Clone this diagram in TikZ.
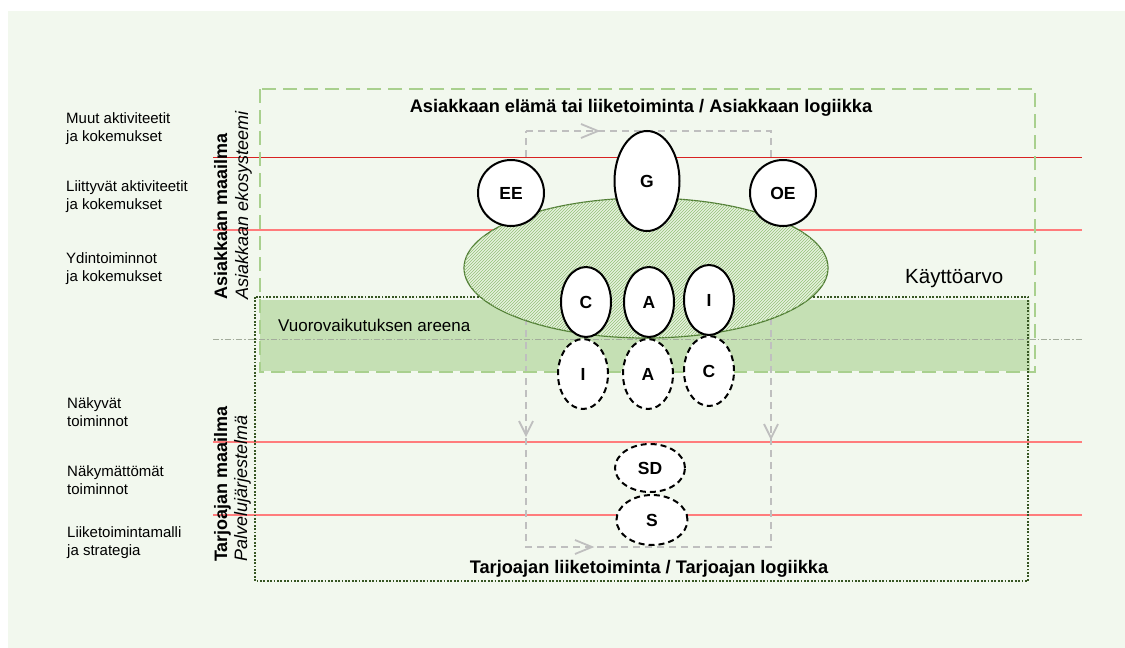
\documentclass[tikz,border=0pt]{standalone}
\usepackage{fontspec}
\setmainfont{Liberation Sans}
\usetikzlibrary{shapes.geometric,patterns}

\definecolor{panelbg}{HTML}{F2F8EE}
\definecolor{arenafill}{HTML}{C5E0B4}
\definecolor{worldgreen}{HTML}{A9D08E}
\definecolor{darkgreen}{HTML}{375623}
\definecolor{rimgreen}{HTML}{4E7A32}
\definecolor{hatchbase}{HTML}{E6F1DE}
\definecolor{hatchline}{HTML}{94C178}
\definecolor{loopgray}{HTML}{BFBFBF}
\definecolor{levelred}{HTML}{FF7C7C}
\definecolor{toplevelred}{HTML}{D82222}
\definecolor{axisgray}{HTML}{A3AC9C}

\tikzset{
  levelline/.style={levelred, line width=1.2pt},
  loopline/.style={loopgray, line width=2pt, dash pattern=on 7pt off 5pt},
  chevron/.style={loopgray, line width=1.8pt},
  actor/.style={ellipse, draw=black, fill=white, line width=2pt, inner sep=0pt,
    font=\bfseries\fontsize{17.5}{20}\selectfont},
  provactor/.style={actor, dash pattern=on 6pt off 4pt},
  levellabel/.style={align=left, anchor=base west, inner sep=0pt,
    font=\fontsize{15}{18}\selectfont},
  headline/.style={anchor=base, inner sep=0pt, font=\bfseries\fontsize{18.2}{21}\selectfont},
  worldname/.style={rotate=90, anchor=base west, inner sep=0pt, font=\bfseries\fontsize{18}{21}\selectfont},
  systemname/.style={rotate=90, anchor=base west, inner sep=0pt, font=\itshape\fontsize{18}{21}\selectfont},
}

\begin{document}
\begin{tikzpicture}[x=1pt, y=-1pt]
\useasboundingbox (0,0) rectangle (1125,648);

% panel
\fill[panelbg] (8,11) rectangle (1125,648);

% interaction arena band
\fill[arenafill] (260,300) rectangle (1030,371);

% level separators
\draw[toplevelred, line width=0.8pt] (213,157) -- (1082,157);
\draw[levelline, line width=1.5pt] (213,230) -- (1082,230);
\draw[levelline] (213,442) -- (1082,442);
\draw[levelline] (213,515) -- (1082,515);
\draw[axisgray, line width=1pt, dash pattern=on 6pt off 2pt on 1.5pt off 2pt] (213,339) -- (1083,339);

% value creation loop
\coordinate (lp1) at (526,131);
\coordinate (lp2) at (771,131);
\coordinate (lp3) at (771,547);
\coordinate (lp4) at (526,547);
\draw[loopline] (lp1) -- (lp2) -- (lp3) -- (lp4) -- cycle;
\draw[chevron] (581,124) -- (598,131) -- (581,138);
\draw[chevron] (575,540) -- (592,547) -- (575,554);
\draw[chevron] (519,421) -- (526,435) -- (533,421);
\draw[chevron] (764,424) -- (771,438) -- (778,424);

% customer and provider worlds
\draw[worldgreen, line width=2.5pt, dash pattern=on 14pt off 7pt] (260,89) rectangle (1035,372);
\draw[darkgreen, line width=2.2pt, dash pattern=on 1.8pt off 1.6pt] (255,297) rectangle (1028,581);

% customer core activity
\draw[rimgreen, line width=1.2pt, fill=hatchbase,
  postaction={pattern=north east lines, pattern color=hatchline}]
  (646,268) ellipse [x radius=182pt, y radius=70pt];

% actors
\node[actor, minimum width=66pt, minimum height=66pt] (ee) at (511,193) {EE};
\node[actor, minimum width=65pt, minimum height=100pt] (g) at (647,181) {G};
\node[actor, minimum width=66pt, minimum height=66pt] (oe) at (783,193) {OE};
\node[actor, minimum width=50pt, minimum height=70pt] (cc) at (586,302) {C};
\node[actor, minimum width=50pt, minimum height=70pt] (ca) at (649,302) {A};
\node[actor, minimum width=50pt, minimum height=70pt] (ci) at (709,300) {I};
\node[provactor, minimum width=50pt, minimum height=70pt] (pi) at (583,374) {I};
\node[provactor, minimum width=50pt, minimum height=70pt] (pa) at (648,374) {A};
\node[provactor, minimum width=50pt, minimum height=70pt] (pc) at (709,371) {C};
\node[provactor, minimum width=70pt, minimum height=48pt] (sd) at (650,468) {SD};
\node[provactor, minimum width=71pt, minimum height=50pt] (s) at (652,520) {S};

% headings
\node[headline] (custlogic) at (641,112) {Asiakkaan elämä tai liiketoiminta / Asiakkaan logiikka};
\node[headline] (provlogic) at (649,573) {Tarjoajan liiketoiminta / Tarjoajan logiikka};
\node[anchor=base west, inner sep=0pt, font=\fontsize{20.5}{24}\selectfont] (value) at (905,283) {Käyttöarvo};
\node[anchor=base west, inner sep=0pt, font=\fontsize{17}{20}\selectfont] (arena) at (278,331) {Vuorovaikutuksen areena};

% world names
\node[worldname] (custworld) at (227,300) {Asiakkaan maailma};
\node[systemname] (custsys) at (248,300) {Asiakkaan ekosysteemi};
\node[worldname] (provworld) at (227,562) {Tarjoajan maailma};
\node[systemname] (provsys) at (247,562) {Palvelujärjestelmä};

% level labels (anchored at the baseline of their last line)
\node[levellabel] (l1) at (66,141.5) {Muut aktiviteetit\\ja kokemukset};
\node[levellabel] (l2) at (66,209) {Liittyvät aktiviteetit\\ja kokemukset};
\node[levellabel] (l3) at (66,281) {Ydintoiminnot\\ja kokemukset};
\node[levellabel] (l4) at (67,426) {Näkyvät\\toiminnot};
\node[levellabel] (l5) at (67,494) {Näkymättömät\\toiminnot};
\node[levellabel] (l6) at (67,555) {Liiketoimintamalli\\ja strategia};
\end{tikzpicture}
\end{document}
